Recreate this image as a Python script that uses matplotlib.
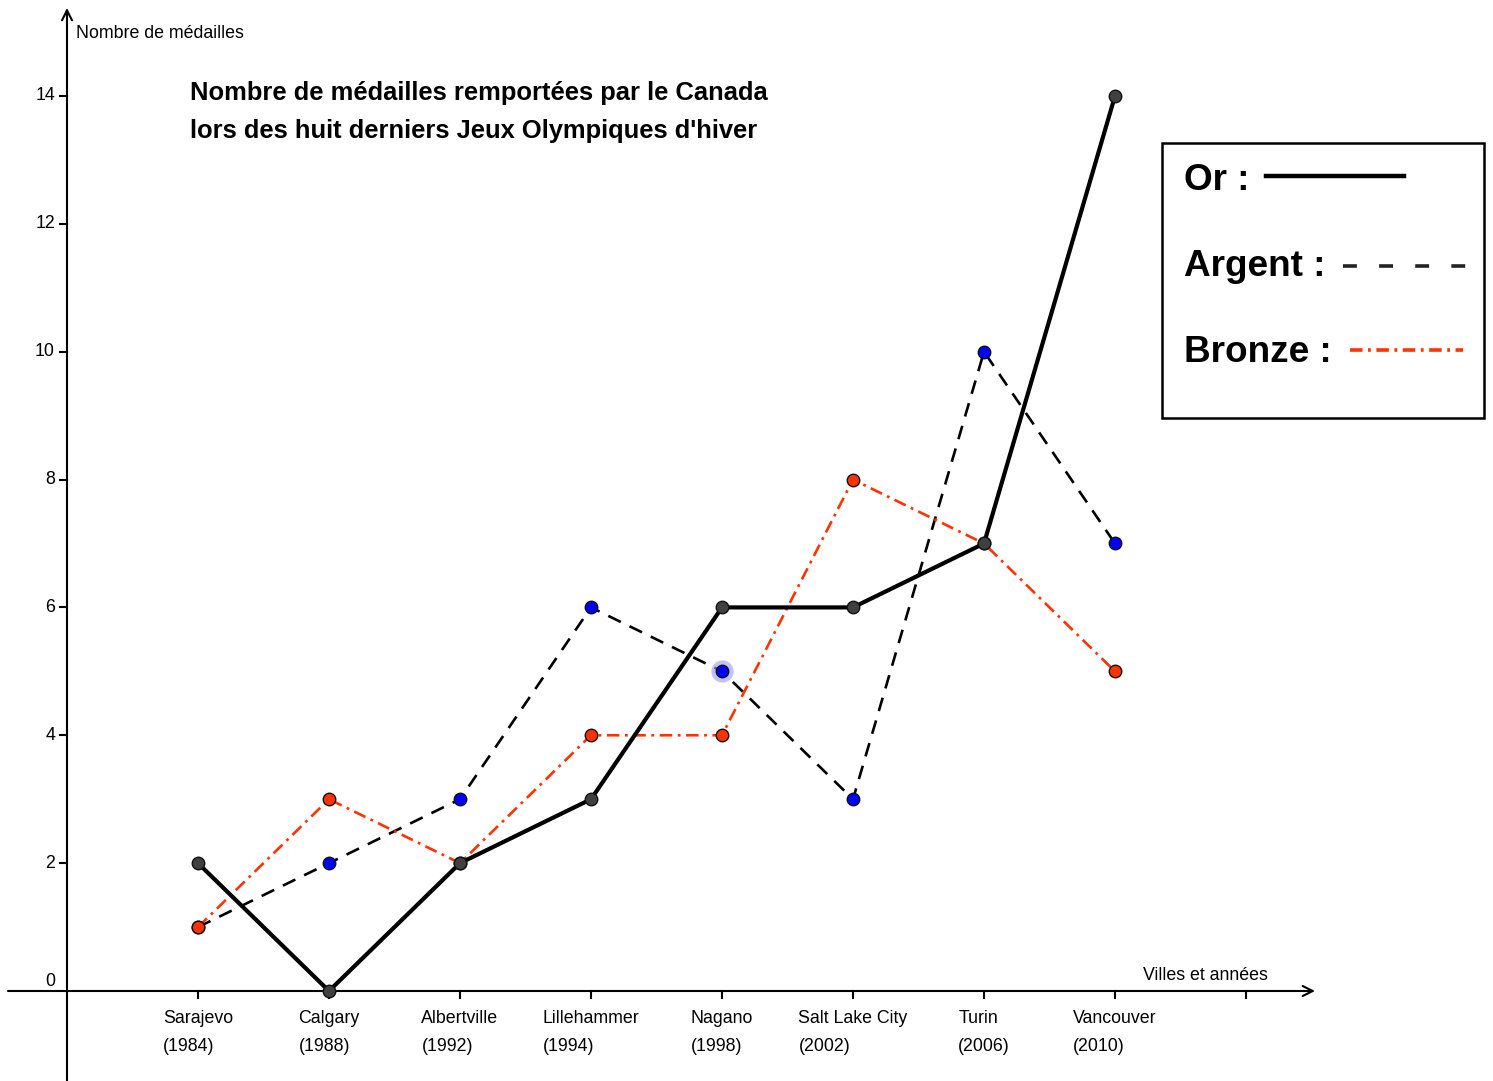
import matplotlib
matplotlib.use("Agg")
import matplotlib.pyplot as plt
from matplotlib.lines import Line2D

plt.rcParams['font.family'] = ['Liberation Sans', 'DejaVu Sans']
plt.rcParams['lines.scale_dashes'] = False

cities = ["Sarajevo", "Calgary", "Albertville", "Lillehammer", "Nagano",
          "Salt Lake City", "Turin", "Vancouver"]
years = ["1984", "1988", "1992", "1994", "1998", "2002", "2006", "2010"]
gold = [2, 0, 2, 3, 6, 6, 7, 14]
silver = [1, 2, 3, 6, 5, 3, 10, 7]
bronze = [1, 3, 2, 4, 4, 8, 7, 5]
yticks = [0, 2, 4, 6, 8, 10, 12, 14]
xpos = list(range(1, len(cities) + 1))

W, H = 1493, 1081
fig = plt.figure(figsize=(W / 100, H / 100), dpi=100)
ax = fig.add_axes([0, 0, 1, 1])
ax.set_axis_off()

# pixel mapping: origin at (67, 991), 131 px per x unit, 63.93 px per y unit
ox, oy, sx, sy = 67, 991, 131.0, 63.93
ax.set_xlim(-ox / sx, (W - ox) / sx)
ax.set_ylim(-(H - oy) / sy, oy / sy)

def px(x):  # pixel offsets to data units
    return x / sx
def py(y):
    return y / sy
def dx(p):
    return px(p - ox)
def dy(p):
    return py(oy - p)

# axes with arrows
ax.annotate("", xy=(px(1315 - ox), 0), xytext=(px(8 - ox), 0),
            arrowprops=dict(arrowstyle="->", lw=1.5, color="black",
                            mutation_scale=18, shrinkA=0, shrinkB=0))
ax.annotate("", xy=(0, py(oy - 8)), xytext=(0, -py(H - oy)),
            arrowprops=dict(arrowstyle="->", lw=1.5, color="black",
                            mutation_scale=18, shrinkA=0, shrinkB=0))

# x ticks (1..9)
for t in range(1, 10):
    ax.plot([t, t], [0, -py(7)], color="black", lw=1.5)
# y ticks
for t in yticks:
    if t > 0:
        ax.plot([0, -px(7)], [t, t], color="black", lw=1.5)
        ax.text(-px(12), t, str(t), ha="right", va="center", fontsize=12.8)
ax.text(-px(12), py(10), "0", ha="right", va="center", fontsize=12.8)

# x tick labels
for x, c, yr in zip(xpos, cities, years):
    ax.text(x, -py(19), c + "\n(" + yr + ")", ha="center", va="top",
            multialignment="left", fontsize=12.8, linespacing=1.85)

# axis labels
ax.text(dx(76), dy(33), "Nombre de médailles", ha="left",
        va="center", fontsize=12.8)
ax.text(dx(1268), dy(976), "Villes et années", ha="right",
        va="center", fontsize=12.8)

# title
ax.text(dx(190), dy(93), "Nombre de médailles remportées par le Canada",
        ha="left", va="center", fontsize=18.4, fontweight="bold")
ax.text(dx(190), dy(131), "lors des huit derniers Jeux Olympiques d'hiver",
        ha="left", va="center", fontsize=18.4, fontweight="bold")

# data lines
ax.plot(xpos, silver, color="black", lw=1.9, dashes=(10, 7), zorder=3)
ax.plot(xpos, bronze, color="#ff3300", lw=1.9, dashes=(9, 4, 2, 4), zorder=3)
ax.plot(xpos, gold, color="black", lw=3.0, zorder=4, solid_joinstyle="round")

# halo on Nagano silver point
ax.plot([xpos[4]], [silver[4]], "o", ms=16, color="#9999ff", alpha=0.6,
        mec="none", zorder=5)
ax.plot(xpos, silver, "o", ms=9, mfc="#0000ff", mec="#111111", mew=1.0,
        ls="none", zorder=6)
ax.plot(xpos, bronze, "o", ms=9, mfc="#ff3300", mec="#111111", mew=1.0,
        ls="none", zorder=6)
ax.plot(xpos, gold, "o", ms=9, mfc="#404040", mec="#111111", mew=1.0,
        ls="none", zorder=6)

# legend box
ax.add_patch(plt.Rectangle((dx(1162), dy(418)), dx(1484) - dx(1162),
                           dy(143) - dy(418), fill=False, lw=1.8,
                           ec="black", zorder=7))
ax.text(dx(1184), dy(180), "Or :", ha="left", va="center", fontsize=26.6,
        fontweight="bold", zorder=8)
ax.text(dx(1184), dy(266), "Argent :", ha="left", va="center", fontsize=26.6,
        fontweight="bold", zorder=8)
ax.text(dx(1184), dy(353), "Bronze :", ha="left", va="center", fontsize=26.6,
        fontweight="bold", zorder=8)
ax.add_line(Line2D([dx(1266), dx(1404)], [dy(176), dy(176)], color="black",
                   lw=3.2, zorder=8))
ax.add_line(Line2D([dx(1343), dx(1470)], [dy(266), dy(266)], color="#222222",
                   lw=2.6, dashes=(10, 16), zorder=8))
ax.add_line(Line2D([dx(1350), dx(1463)], [dy(350), dy(350)], color="#ff3300",
                   lw=2.6, dashes=(9, 4, 2, 4), zorder=8))

fig.savefig("out.png", dpi=100)
